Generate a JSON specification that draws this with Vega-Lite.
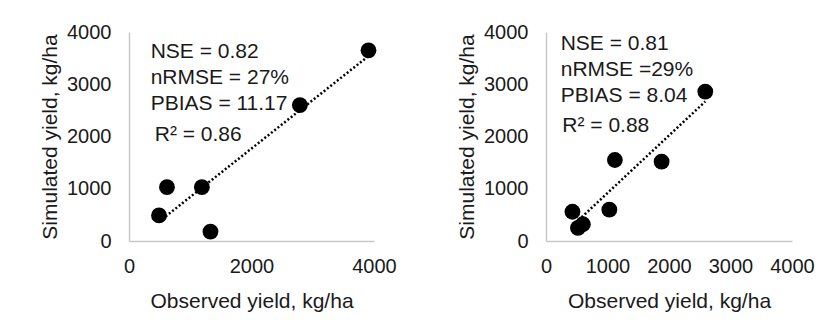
{
  "$schema": "https://vega.github.io/schema/vega-lite/v6.json",
  "background": "white",
  "padding": {"left": 39, "top": 22, "right": 5, "bottom": 5},
  "spacing": 59,
  "config": {
    "font": "Liberation Sans",
    "view": {"stroke": null},
    "axis": {
      "domainColor": "#c8c8c8",
      "domainWidth": 1.5,
      "ticks": false,
      "grid": false,
      "format": "d",
      "labelFlush": false,
      "labelOverlap": false,
      "labelFont": "Liberation Sans",
      "labelFontSize": 20,
      "labelColor": "#1a1a1a",
      "titleFont": "Liberation Sans",
      "titleFontSize": 21,
      "titleFontWeight": "normal",
      "titleColor": "#1a1a1a"
    },
    "axisX": {"labelPadding": 15, "titlePadding": 14},
    "axisY": {"labelPadding": 18, "titlePadding": 6, "labelBaseline": "middle"},
    "text": {"font": "Liberation Sans"}
  },
  "datasets": {
    "left": [
      {"observed": 490, "simulated": 490},
      {"observed": 620, "simulated": 1030},
      {"observed": 1190, "simulated": 1030},
      {"observed": 1330, "simulated": 180},
      {"observed": 2790, "simulated": 2600},
      {"observed": 3910, "simulated": 3650}
    ],
    "leftTrend": [
      {"observed": 490, "simulated": 370},
      {"observed": 3910, "simulated": 3540}
    ],
    "right": [
      {"observed": 430, "simulated": 560},
      {"observed": 520, "simulated": 250},
      {"observed": 600, "simulated": 320},
      {"observed": 1030, "simulated": 600},
      {"observed": 1120, "simulated": 1550},
      {"observed": 1880, "simulated": 1520},
      {"observed": 2590, "simulated": 2860}
    ],
    "rightTrend": [
      {"observed": 430, "simulated": 290},
      {"observed": 2590, "simulated": 2670}
    ],
    "leftStats": [{"stats": ["NSE = 0.82", "nRMSE = 27%", "PBIAS = 11.17"], "r2": "R² = 0.86"}],
    "rightStats": [{"stats": ["NSE = 0.81", "nRMSE =29%", "PBIAS = 8.04"], "r2": "R² = 0.88"}]
  },
  "hconcat": [
    {
      "width": 245,
      "height": 209,
      "layer": [
        {
          "data": {"name": "leftTrend"},
          "mark": {"type": "line", "color": "black", "strokeWidth": 2.5, "strokeDash": [2, 2.2]},
          "encoding": {
            "x": {"field": "observed", "type": "quantitative", "scale": {"domain": [0, 4000], "nice": false}, "axis": {"values": [0, 2000, 4000], "title": "Observed yield, kg/ha"}},
            "y": {"field": "simulated", "type": "quantitative", "scale": {"domain": [0, 4000], "nice": false}, "axis": {"values": [0, 1000, 2000, 3000, 4000], "title": "Simulated yield, kg/ha"}}
          }
        },
        {
          "data": {"name": "left"},
          "mark": {"type": "circle", "size": 250, "color": "black", "opacity": 1},
          "encoding": {
            "x": {"field": "observed", "type": "quantitative"},
            "y": {"field": "simulated", "type": "quantitative"}
          }
        },
        {
          "data": {"name": "leftStats"},
          "mark": {"type": "text", "align": "left", "baseline": "alphabetic", "fontSize": 21, "lineHeight": 26, "color": "#1a1a1a"},
          "encoding": {"x": {"datum": 354}, "y": {"datum": 3497}, "text": {"field": "stats"}}
        },
        {
          "data": {"name": "leftStats"},
          "mark": {"type": "text", "align": "left", "baseline": "alphabetic", "fontSize": 21, "color": "#1a1a1a"},
          "encoding": {"x": {"datum": 420}, "y": {"datum": 1920}, "text": {"field": "r2"}}
        }
      ]
    },
    {
      "width": 246,
      "height": 209,
      "layer": [
        {
          "data": {"name": "rightTrend"},
          "mark": {"type": "line", "color": "black", "strokeWidth": 2.5, "strokeDash": [2, 2.2]},
          "encoding": {
            "x": {"field": "observed", "type": "quantitative", "scale": {"domain": [0, 4000], "nice": false}, "axis": {"values": [0, 1000, 2000, 3000, 4000], "title": "Observed yield, kg/ha"}},
            "y": {"field": "simulated", "type": "quantitative", "scale": {"domain": [0, 4000], "nice": false}, "axis": {"values": [0, 1000, 2000, 3000, 4000], "title": "Simulated yield, kg/ha"}}
          }
        },
        {
          "data": {"name": "right"},
          "mark": {"type": "circle", "size": 250, "color": "black", "opacity": 1},
          "encoding": {
            "x": {"field": "observed", "type": "quantitative"},
            "y": {"field": "simulated", "type": "quantitative"}
          }
        },
        {
          "data": {"name": "rightStats"},
          "mark": {"type": "text", "align": "left", "baseline": "alphabetic", "fontSize": 21, "lineHeight": 26, "color": "#1a1a1a"},
          "encoding": {"x": {"datum": 239}, "y": {"datum": 3661}, "text": {"field": "stats"}}
        },
        {
          "data": {"name": "rightStats"},
          "mark": {"type": "text", "align": "left", "baseline": "alphabetic", "fontSize": 21, "color": "#1a1a1a"},
          "encoding": {"x": {"datum": 265}, "y": {"datum": 2092}, "text": {"field": "r2"}}
        }
      ]
    }
  ]
}
